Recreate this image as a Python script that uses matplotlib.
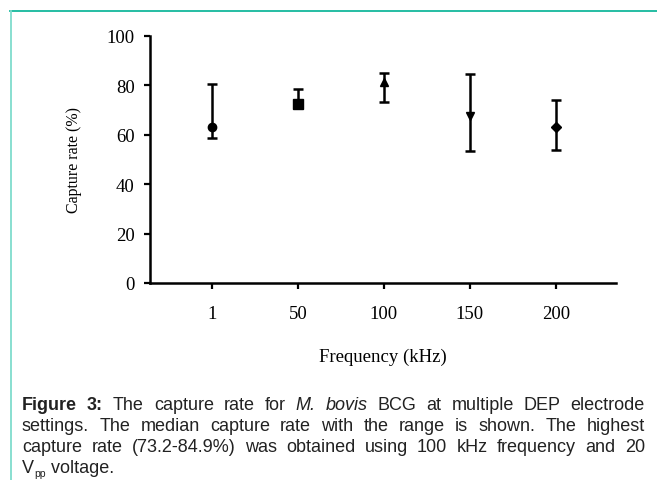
import matplotlib
matplotlib.use("Agg")
import matplotlib.pyplot as plt
from matplotlib.lines import Line2D
from matplotlib.transforms import IdentityTransform

freq_labels = ["1", "50", "100", "150", "200"]
median = [63.0, 72.3, 81.5, 67.8, 63.3]
low = [58.6, 70.8, 73.2, 53.4, 53.8]
high = [80.6, 78.5, 84.9, 84.7, 74.1]
markers = ["o", "s", "^", "v", "D"]
msizes = [6, 7, 6, 6, 5]

W, H = 657, 481
fig = plt.figure(figsize=(W / 100, H / 100), dpi=100)
ax = fig.add_axes([150 / W, (H - 284) / H, (616 - 150) / W, (284 - 37) / H])

serif = "Liberation Serif"
for i in range(len(freq_labels)):
    ax.errorbar(i, median[i], yerr=[[median[i] - low[i]], [high[i] - median[i]]],
                fmt=markers[i], color="black", ms=msizes[i], elinewidth=1.8,
                capsize=3.6, capthick=1.8)

ax.set_xlim(-0.72, 4.70)
ax.set_ylim(0, 100)
ax.set_yticks([0, 20, 40, 60, 80, 100])
ax.set_xticks(range(len(freq_labels)))
ax.set_xticklabels(freq_labels)
for s in ["top", "right"]:
    ax.spines[s].set_visible(False)
for s in ["left", "bottom"]:
    ax.spines[s].set_linewidth(1.8)
ax.tick_params(axis="y", length=4, width=1.6, pad=7, labelsize=13.5)
ax.tick_params(axis="x", length=4, width=1.6, pad=12, labelsize=13.5)
for lab in ax.get_xticklabels() + ax.get_yticklabels():
    lab.set_family(serif)
ax.set_xlabel("Frequency (kHz)", family=serif, fontsize=13.5, labelpad=18)
ax.set_ylabel("Capture rate (%)", family=serif, fontsize=11.5, labelpad=18)

# frame lines of the figure box
fig.add_artist(Line2D([10, W], [H - 12, H - 12], transform=IdentityTransform(),
                      color="#14b89c", lw=1.3))
fig.add_artist(Line2D([10.5, 10.5], [0, H - 12], transform=IdentityTransform(),
                      color="#7fdccd", lw=1.3))

# caption, justified
sans = "Liberation Sans"
cap_size = 13
cap_color = "#222222"
lines = [
    [("Figure", "bold", "normal"), ("3:", "bold", "normal"), ("The", "normal", "normal"),
     ("capture", "normal", "normal"), ("rate", "normal", "normal"), ("for", "normal", "normal"),
     ("M.", "normal", "italic"), ("bovis", "normal", "italic"), ("BCG", "normal", "normal"),
     ("at", "normal", "normal"), ("multiple", "normal", "normal"), ("DEP", "normal", "normal"),
     ("electrode", "normal", "normal")],
    [(w, "normal", "normal") for w in
     "settings. The median capture rate with the range is shown. The highest".split()],
    [(w, "normal", "normal") for w in
     "capture rate (73.2-84.9%) was obtained using 100 kHz frequency and 20".split()],
]
line_y = [410, 431, 452]
x0, x1 = 22, 645
renderer = fig.canvas.get_renderer()
for words, yy in zip(lines, line_y):
    arts = []
    for w, wt, st in words:
        t = fig.text(0, H - yy, w, transform=IdentityTransform(), family=sans,
                     fontsize=cap_size, weight=wt, style=st, color=cap_color, va="baseline")
        arts.append(t)
    widths = [a.get_window_extent(renderer).width for a in arts]
    gap = (x1 - x0 - sum(widths)) / (len(arts) - 1)
    x = x0
    for a, wd in zip(arts, widths):
        a.set_x(x)
        x += wd + gap

yy = 473
t = fig.text(x0, H - yy, "V", transform=IdentityTransform(), family=sans,
             fontsize=cap_size, color=cap_color, va="baseline")
wv = t.get_window_extent(renderer).width
t2 = fig.text(x0 + wv, H - yy - 4, "pp", transform=IdentityTransform(), family=sans,
              fontsize=7.5, color=cap_color, va="baseline")
wp = t2.get_window_extent(renderer).width
fig.text(x0 + wv + wp, H - yy, " voltage.", transform=IdentityTransform(), family=sans,
         fontsize=cap_size, color=cap_color, va="baseline")

fig.savefig("out.png", dpi=100)
